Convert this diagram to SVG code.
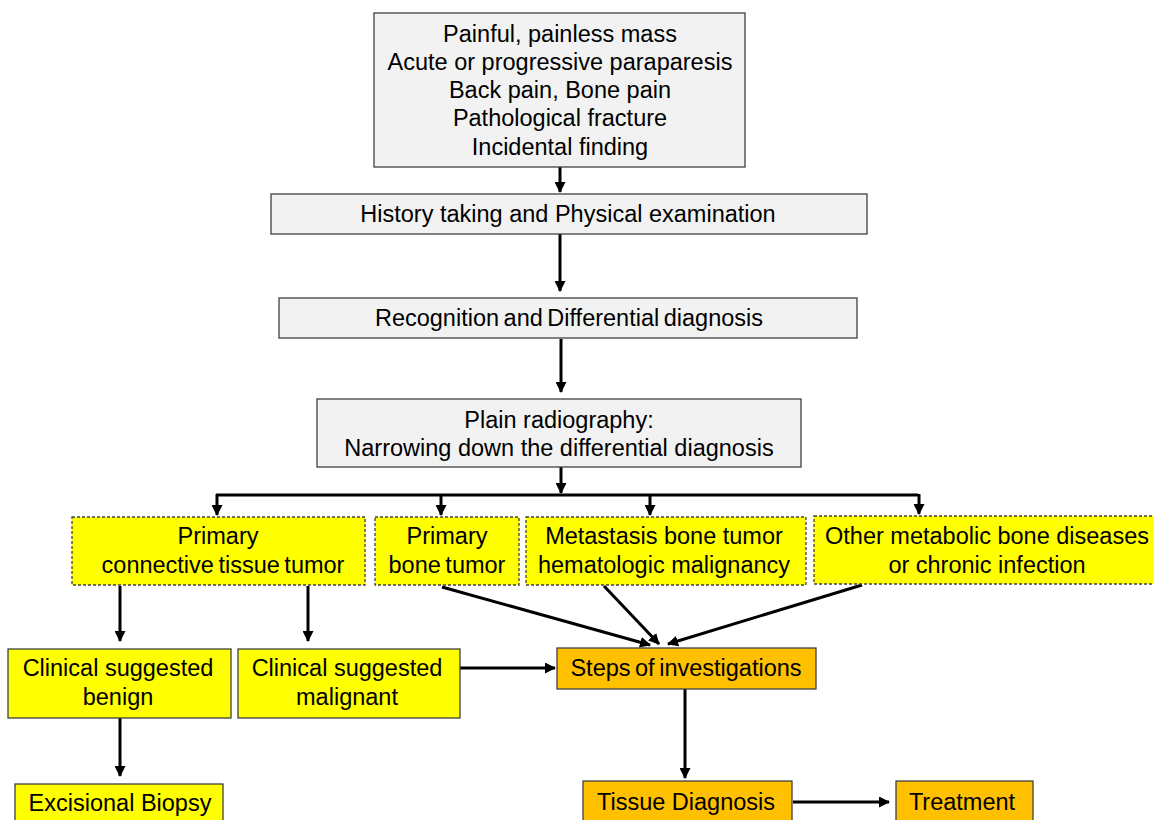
<svg xmlns="http://www.w3.org/2000/svg" width="1154" height="820" viewBox="0 0 1154 820">
<style>
text{font-family:"Liberation Sans",Arial,sans-serif;font-size:23.5px;fill:#000;text-anchor:middle;dominant-baseline:central}
.tight{word-spacing:-2px}
.gray{fill:#f2f2f2;stroke:#404040;stroke-width:1.3}
.yd{fill:#ffff00;stroke:#404040;stroke-width:1.3;stroke-dasharray:3 2}
.ys{fill:#ffff00;stroke:#404040;stroke-width:1.3}
.or{fill:#ffc000;stroke:#404040;stroke-width:1.3}
.c{fill:none;stroke:#000;stroke-width:3}
</style>
<defs>
<marker id="ah" markerWidth="11" markerHeight="11" refX="10" refY="5.5" orient="auto" markerUnits="userSpaceOnUse">
<path d="M0,0 L11,5.5 L0,11 Z" fill="#000"/>
</marker>
</defs>
<rect width="1154" height="820" fill="#fff"/>
<g id="connectors">
<line class="c" x1="560" y1="167" x2="560" y2="192" marker-end="url(#ah)"/>
<line class="c" x1="560" y1="234" x2="560" y2="291" marker-end="url(#ah)"/>
<line class="c" x1="561" y1="339" x2="561" y2="392" marker-end="url(#ah)"/>
<line class="c" x1="561" y1="467" x2="561" y2="493" marker-end="url(#ah)"/>
<polyline class="c" points="216,495 918,495"/>
<line class="c" x1="217" y1="494" x2="217" y2="515" marker-end="url(#ah)"/>
<line class="c" x1="441" y1="494" x2="441" y2="515" marker-end="url(#ah)"/>
<line class="c" x1="650" y1="494" x2="650" y2="515" marker-end="url(#ah)"/>
<line class="c" x1="919" y1="494" x2="919" y2="514" marker-end="url(#ah)"/>
<line class="c" x1="120" y1="586" x2="120" y2="641" marker-end="url(#ah)"/>
<line class="c" x1="308" y1="586" x2="308" y2="641" marker-end="url(#ah)"/>
<line class="c" x1="442" y1="587" x2="650" y2="645" marker-end="url(#ah)"/>
<line class="c" x1="604" y1="586" x2="659" y2="644" marker-end="url(#ah)"/>
<line class="c" x1="862" y1="585" x2="668" y2="644" marker-end="url(#ah)"/>
<line class="c" x1="460" y1="668" x2="555" y2="668" marker-end="url(#ah)"/>
<line class="c" x1="120" y1="718" x2="120" y2="776" marker-end="url(#ah)"/>
<line class="c" x1="685" y1="689" x2="685" y2="778" marker-end="url(#ah)"/>
<line class="c" x1="793" y1="802" x2="889" y2="802" marker-end="url(#ah)"/>
</g>
<g id="n-symptoms">
<rect class="gray" x="374" y="13" width="371" height="154"/>
<text x="560" y="34">Painful, painless mass</text>
<text x="560" y="62">Acute or progressive paraparesis</text>
<text x="560" y="90">Back pain, Bone pain</text>
<text x="560" y="118">Pathological fracture</text>
<text x="560" y="147">Incidental finding</text>
</g>
<g id="n-history">
<rect class="gray" x="271" y="194" width="596" height="40"/>
<text x="568" y="214">History taking and Physical examination</text>
</g>
<g id="n-recognition">
<rect class="gray" x="279" y="298" width="578" height="40"/>
<text class="tight" x="569" y="318">Recognition and Differential diagnosis</text>
</g>
<g id="n-radiography">
<rect class="gray" x="317" y="399" width="484" height="68"/>
<text x="559" y="420">Plain radiography:</text>
<text x="559" y="448">Narrowing down the differential diagnosis</text>
</g>
<g id="n-connective">
<rect class="yd" x="72" y="517" width="293" height="68"/>
<text x="218" y="536">Primary</text>
<text class="tight" x="223" y="565">connective tissue tumor</text>
</g>
<g id="n-bone">
<rect class="yd" x="375" y="517" width="144" height="68"/>
<text x="447" y="536">Primary</text>
<text class="tight" x="447" y="565">bone tumor</text>
</g>
<g id="n-metastasis">
<rect class="yd" x="526" y="517" width="280" height="68"/>
<text x="664" y="536">Metastasis bone tumor</text>
<text x="664" y="565">hematologic malignancy</text>
</g>
<g id="n-other">
<rect class="yd" x="814" y="516" width="360" height="68"/>
<text x="987" y="536">Other metabolic bone diseases</text>
<text x="987" y="565">or chronic infection</text>
</g>
<g id="n-benign">
<rect class="ys" x="8" y="649" width="223" height="69"/>
<text x="118" y="668">Clinical suggested</text>
<text x="118" y="697">benign</text>
</g>
<g id="n-malignant">
<rect class="ys" x="238" y="649" width="222" height="69"/>
<text x="347" y="668">Clinical suggested</text>
<text x="347" y="697">malignant</text>
</g>
<g id="n-excisional">
<rect class="ys" x="15" y="784" width="208" height="50"/>
<text x="120" y="803">Excisional Biopsy</text>
</g>
<g id="n-steps">
<rect class="or" x="557" y="648" width="259" height="41"/>
<text class="tight" x="686" y="668">Steps of investigations</text>
</g>
<g id="n-tissue">
<rect class="or" x="583" y="781" width="209" height="50"/>
<text x="686" y="802">Tissue Diagnosis</text>
</g>
<g id="n-treatment">
<rect class="or" x="896" y="781" width="137" height="50"/>
<text x="962" y="802">Treatment</text>
</g>
</svg>
